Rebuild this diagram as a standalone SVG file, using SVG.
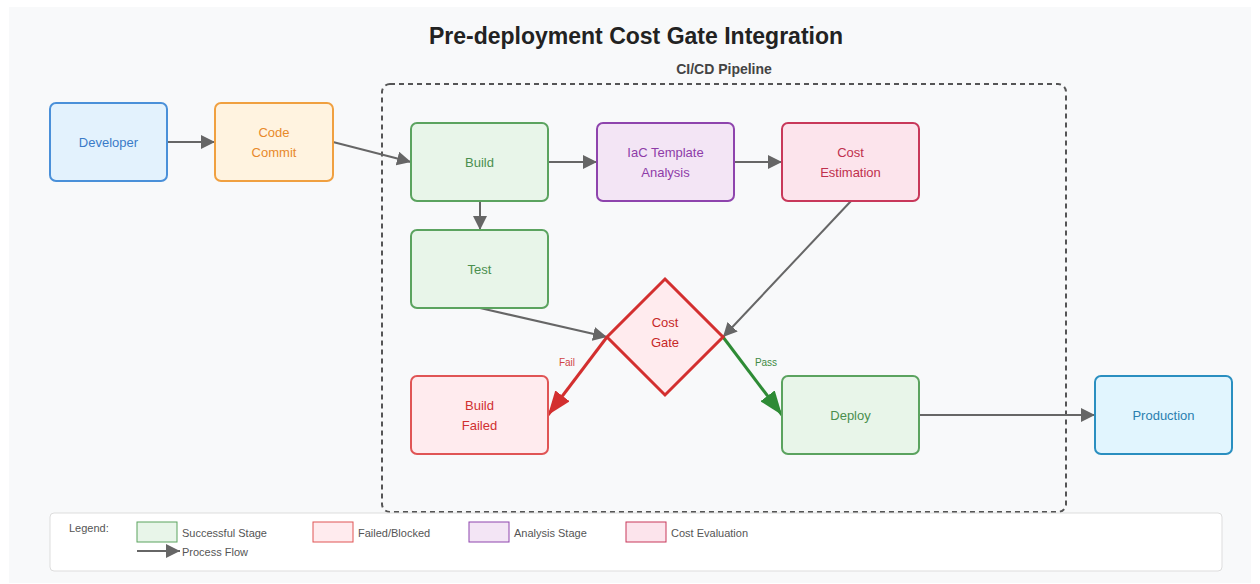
<svg xmlns="http://www.w3.org/2000/svg" width="1260" height="584" viewBox="0 0 1260 584">
<defs>
<style>
text{font-family:"Liberation Sans",Arial,sans-serif;text-anchor:middle}
.node{stroke-width:2}
.lbl{font-size:13px}
.conn{fill:none;stroke:#666;stroke-width:2}
.green rect{fill:#e8f5e9;stroke:#5ba35f}
.green text{fill:#4a8f4e}
.leg{font-size:11px;fill:#555;text-anchor:start}
</style>
<marker id="ah" viewBox="0 0 10 10" refX="10" refY="5" markerWidth="7" markerHeight="7" markerUnits="strokeWidth" orient="auto"><path d="M0,0 L10,5 L0,10 z" fill="#666"/></marker>
<marker id="ahr" viewBox="0 0 24 18" refX="24" refY="9" markerWidth="24" markerHeight="18" markerUnits="userSpaceOnUse" orient="auto"><path d="M0,0 L24,9 L0,18 z" fill="#d32f2f"/></marker>
<marker id="ahg" viewBox="0 0 24 18" refX="24" refY="9" markerWidth="24" markerHeight="18" markerUnits="userSpaceOnUse" orient="auto"><path d="M0,0 L24,9 L0,18 z" fill="#2e8b35"/></marker>
</defs>
<rect x="0" y="0" width="1260" height="584" fill="#ffffff"/>
<rect x="9" y="7" width="1242" height="576" fill="#f8f9fa"/>
<text x="636" y="44" font-size="23" font-weight="bold" fill="#222">Pre-deployment Cost Gate Integration</text>
<g id="pipeline">
<rect x="382" y="84" width="684" height="428" rx="8" fill="none" stroke="#555" stroke-width="2" stroke-dasharray="5,4"/>
<text x="724" y="74" font-size="14" font-weight="bold" fill="#444">CI/CD Pipeline</text>
</g>
<g id="connectors">
<line class="conn" x1="167" y1="142" x2="215" y2="142" marker-end="url(#ah)"/>
<line class="conn" x1="333" y1="142" x2="411" y2="162" marker-end="url(#ah)"/>
<line class="conn" x1="548" y1="162" x2="597" y2="162" marker-end="url(#ah)"/>
<line class="conn" x1="734" y1="162" x2="782" y2="162" marker-end="url(#ah)"/>
<line class="conn" x1="480" y1="201" x2="480" y2="230" marker-end="url(#ah)"/>
<line class="conn" x1="480" y1="308" x2="607" y2="337" marker-end="url(#ah)"/>
<line class="conn" x1="851" y1="201" x2="723" y2="337" marker-end="url(#ah)"/>
<line x1="607" y1="337" x2="548" y2="415" stroke="#d32f2f" stroke-width="3" marker-end="url(#ahr)"/>
<line x1="723" y1="337" x2="782" y2="415" stroke="#2e8b35" stroke-width="3" marker-end="url(#ahg)"/>
<line class="conn" x1="919" y1="415" x2="1095" y2="415" marker-end="url(#ah)"/>
<text x="567" y="366" font-size="10" fill="#d04545">Fail</text>
<text x="766" y="366" font-size="10" fill="#3d8a43">Pass</text>
</g>
<g id="developer">
<rect class="node" x="50" y="103" width="117" height="78" rx="6" fill="#e3f2fd" stroke="#4a90d9"/>
<text class="lbl" x="108.5" y="147" fill="#3a7bc8">Developer</text>
</g>
<g id="code-commit">
<rect class="node" x="215" y="103" width="118" height="78" rx="6" fill="#fff3e0" stroke="#f0a040"/>
<text class="lbl" x="274" y="137" fill="#e8892a">Code</text>
<text class="lbl" x="274" y="157" fill="#e8892a">Commit</text>
</g>
<g id="build" class="green">
<rect class="node" x="411" y="123" width="137" height="78" rx="6"/>
<text class="lbl" x="479.5" y="167">Build</text>
</g>
<g id="iac-analysis">
<rect class="node" x="597" y="123" width="137" height="78" rx="6" fill="#f3e5f5" stroke="#8e44ad"/>
<text class="lbl" x="665.5" y="157" fill="#8e3ca8">IaC Template</text>
<text class="lbl" x="665.5" y="177" fill="#8e3ca8">Analysis</text>
</g>
<g id="cost-estimation">
<rect class="node" x="782" y="123" width="137" height="78" rx="6" fill="#fce4ec" stroke="#c8385a"/>
<text class="lbl" x="850.5" y="157" fill="#c0304d">Cost</text>
<text class="lbl" x="850.5" y="177" fill="#c0304d">Estimation</text>
</g>
<g id="test" class="green">
<rect class="node" x="411" y="230" width="137" height="78" rx="6"/>
<text class="lbl" x="479.5" y="274">Test</text>
</g>
<g id="cost-gate">
<polygon points="665,279 723,337 665,395 607,337" fill="#ffebee" stroke="#d32f2f" stroke-width="3"/>
<text class="lbl" x="665" y="327" fill="#c62828">Cost</text>
<text class="lbl" x="665" y="347" fill="#c62828">Gate</text>
</g>
<g id="build-failed">
<rect class="node" x="411" y="376" width="137" height="78" rx="6" fill="#ffebee" stroke="#e05555"/>
<text class="lbl" x="479.5" y="410" fill="#d03030">Build</text>
<text class="lbl" x="479.5" y="430" fill="#d03030">Failed</text>
</g>
<g id="deploy" class="green">
<rect class="node" x="782" y="376" width="137" height="78" rx="6"/>
<text class="lbl" x="850.5" y="420">Deploy</text>
</g>
<g id="production">
<rect class="node" x="1095" y="376" width="137" height="78" rx="6" fill="#e1f5fe" stroke="#2a8fc0"/>
<text class="lbl" x="1163.5" y="420" fill="#2a7fb0">Production</text>
</g>
<g id="legend">
<rect x="50" y="513" width="1172" height="58" rx="4" fill="#ffffff" stroke="#dddddd" stroke-width="1"/>
<text class="leg" x="69" y="532">Legend:</text>
<rect x="137" y="522" width="40" height="20" fill="#e8f5e9" stroke="#5ba35f" stroke-width="1"/>
<text class="leg" x="182" y="537">Successful Stage</text>
<rect x="313" y="522" width="40" height="20" fill="#ffebee" stroke="#e05555" stroke-width="1"/>
<text class="leg" x="358" y="537">Failed/Blocked</text>
<rect x="469" y="522" width="40" height="20" fill="#f3e5f5" stroke="#8e44ad" stroke-width="1"/>
<text class="leg" x="514" y="537">Analysis Stage</text>
<rect x="626" y="522" width="40" height="20" fill="#fce4ec" stroke="#c8385a" stroke-width="1"/>
<text class="leg" x="671" y="537">Cost Evaluation</text>
<line class="conn" x1="137" y1="551" x2="180" y2="551" marker-end="url(#ah)"/>
<text class="leg" x="182" y="556">Process Flow</text>
</g>
</svg>
